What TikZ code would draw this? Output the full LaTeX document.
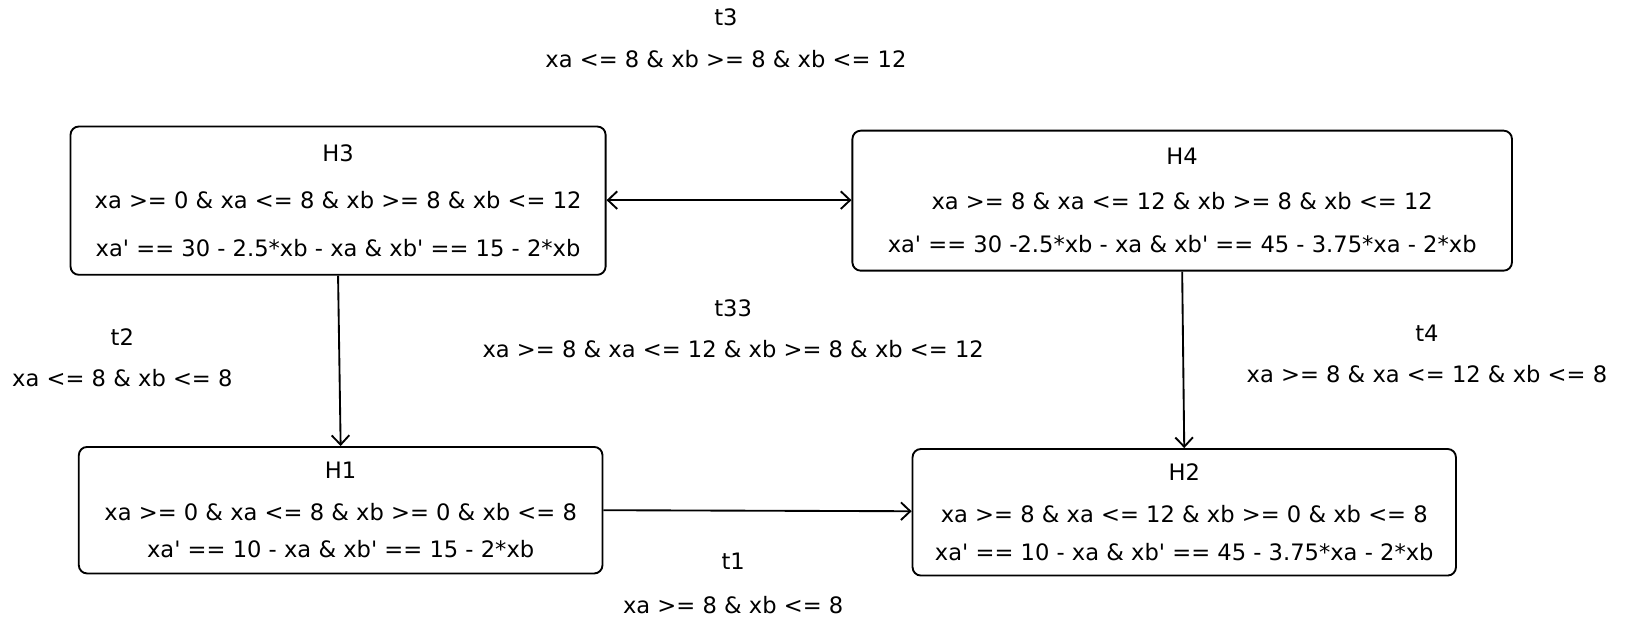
\documentclass[tikz,border=0pt]{standalone}
\usepackage{fontspec}
\newfontfamily\df{DejaVu Sans}
\usetikzlibrary{arrows.meta}
\begin{document}
\begin{tikzpicture}[x=1pt,y=-1pt,
  state/.style={draw,line width=1.8pt,rounded corners=8pt,align=center,
    font=\df\fontsize{21.8}{25}\selectfont,inner sep=0pt},
  lbl/.style={font=\df\fontsize{21.8}{25}\selectfont,inner sep=0pt,anchor=base},
  tip/.style={Straight Barb[length=9pt,width=17pt,line width=1.8pt]},
  conn/.style={line width=1.8pt,-{Straight Barb[length=9pt,width=17pt,line width=1.8pt]}},
  dconn/.style={line width=1.8pt,{Straight Barb[length=9pt,width=17pt,line width=1.8pt]}-{Straight Barb[length=9pt,width=17pt,line width=1.8pt]}}]
\useasboundingbox (0,0) rectangle (1568,621);

\node[state,minimum width=516pt,minimum height=143pt] (H3) at (326,193.5)
  {H3\\[20pt]xa >= 0 \& xa <= 8 \& xb >= 8 \& xb <= 12\\[21pt]xa' == 30 - 2.5*xb - xa \& xb' == 15 - 2*xb};
\node[state,minimum width=636pt,minimum height=135pt] (H4) at (1140,193.5)
  {H4\\[18pt]xa >= 8 \& xa <= 12 \& xb >= 8 \& xb <= 12\\[17pt]xa' == 30 -2.5*xb - xa \& xb' == 45 - 3.75*xa - 2*xb};
\node[state,minimum width=505pt,minimum height=122pt] (H1) at (328.5,492)
  {H1\\[15pt]xa >= 0 \& xa <= 8 \& xb >= 0 \& xb <= 8\\[11pt]xa' == 10 - xa \& xb' == 15 - 2*xb};
\node[state,minimum width=524pt,minimum height=122pt] (H2) at (1142,494)
  {H2\\[15pt]xa >= 8 \& xa <= 12 \& xb >= 0 \& xb <= 8\\[12pt]xa' == 10 - xa \& xb' == 45 - 3.75*xa - 2*xb};

\node[lbl] (t3) at (700,25) {t3};
\node[lbl] (g3) at (700,65) {xa <= 8 \& xb >= 8 \& xb <= 12};
\node[lbl] (t33) at (707,305) {t33};
\node[lbl] (g33) at (707,345) {xa >= 8 \& xa <= 12 \& xb >= 8 \& xb <= 12};
\node[lbl] (t2) at (118,333) {t2};
\node[lbl] (g2) at (118,373) {xa <= 8 \& xb <= 8};
\node[lbl] (t4) at (1376,329) {t4};
\node[lbl] (g4) at (1376,369) {xa >= 8 \& xa <= 12 \& xb <= 8};
\node[lbl] (t1) at (707,549) {t1};
\node[lbl] (g1) at (707,592) {xa >= 8 \& xb <= 8};

\draw[dconn] (H3.east |- 0,193) -- (H4.west |- 0,193);
\draw[conn] (H3.south) -- (H1.north);
\draw[conn] (H4.south) -- (H2.north);
\draw[conn] (H1.east |- 0,492) -- (H2.west |- 0,493);
\end{tikzpicture}
\end{document}
